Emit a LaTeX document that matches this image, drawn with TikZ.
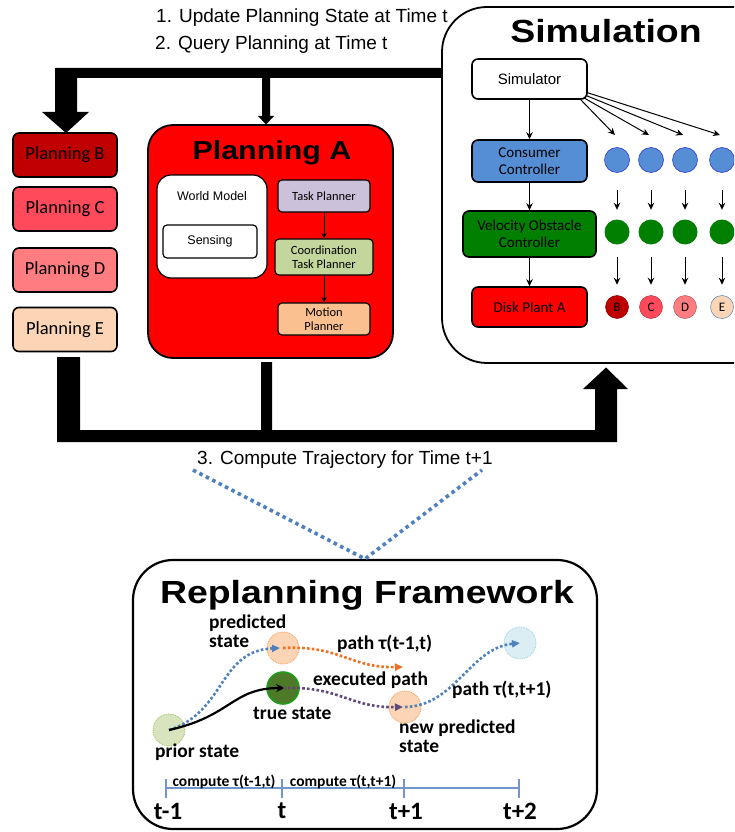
\documentclass[tikz,border=0pt]{standalone}
\usepackage{fontspec}
\setmainfont{Liberation Sans}
\newfontfamily\carl{Carlito}
\usetikzlibrary{arrows.meta}
\newcommand\myfs[2]{\fontsize{#1}{#2}\selectfont}
\newcommand\ttl[2]{\fontsize{#1}{#1}\selectfont\bfseries\scalebox{1.17}[1]{#2}}
\definecolor{plB}{HTML}{C00000}
\definecolor{plC}{HTML}{FF4A5B}
\definecolor{plD}{HTML}{FF7C80}
\definecolor{plE}{HTML}{FBD5B5}
\definecolor{lav}{HTML}{CCC1DA}
\definecolor{lgreen}{HTML}{C3D69B}
\definecolor{lorange}{HTML}{FAC090}
\definecolor{cblue}{HTML}{558ED5}
\definecolor{cbord}{HTML}{3A3AD0}
\definecolor{vgreen}{HTML}{007F00}
\definecolor{dotblue}{HTML}{4F81BD}
\definecolor{dorange}{HTML}{F07020}
\definecolor{dpurple}{HTML}{5F497A}
\definecolor{pgfill}{HTML}{D7E4BD}
\definecolor{pgbord}{HTML}{9BBB59}
\definecolor{pofill}{HTML}{FBD5B5}
\definecolor{pobord}{HTML}{F79646}
\definecolor{tsfill}{HTML}{4E7A27}
\definecolor{tsbord}{HTML}{1E9E1E}
\definecolor{lbfill}{HTML}{DBEEF4}
\definecolor{lbbord}{HTML}{93CDDD}
\definecolor{tlcol}{HTML}{7096CC}
\begin{document}
\begin{tikzpicture}[x=1pt,y=-1pt,
  txt/.style={inner sep=0pt},
  pbox/.style={draw=black, line width=1.6pt, rounded corners=6pt, inner sep=0pt,
    minimum width=104pt, minimum height=44pt, font=\carl\myfs{18.5}{20}},
  ibox/.style={draw=black, line width=1.2pt, rounded corners=4pt, inner sep=0pt,
    align=center, font=\carl\myfs{12.5}{14.5}},
  sbox/.style={draw=black, line width=1.6pt, rounded corners=6pt, inner sep=0pt,
    align=center, minimum width=115pt, font=\carl\myfs{15}{17.5}},
  sarr/.style={line width=1pt, -{Stealth[length=7pt,width=6.5pt]}},
  dcirc/.style={circle, minimum size=25pt, inner sep=0pt},
  rcirc/.style={circle, minimum size=32pt, inner sep=0pt},
  rlab/.style={inner sep=0pt, anchor=west, align=left, font=\carl\bfseries\myfs{19.5}{19}},
  dotp/.style={line width=2.6pt, dash pattern=on 2.6pt off 2.2pt},
  ptip/.style={-{Triangle[length=8pt,width=7pt]}},
  tl/.style={draw=tlcol, line width=1.3pt}
]
\useasboundingbox (0,0) rectangle (734,832);
\clip (0,0) rectangle (734,832);

% ---------------- Simulation box ----------------
\draw[line width=1.8pt, rounded corners=45pt, fill=white] (442,7) rectangle (800,363);
\node[txt, anchor=base] (simt) at (606,43) {\ttl{32}{Simulation}};

% ---------------- thick buses ----------------
\fill[black] (442,68) -- (55,68) -- (55,112) -- (42,112) -- (66,133) -- (89,112) -- (77,112)
  -- (77,78) -- (262,78) -- (262,116) -- (258,116) -- (266,124.5) -- (274,116) -- (270,116)
  -- (270,78) -- (442,78) -- cycle;
\fill[black] (57,357) -- (80,357) -- (80,430) -- (261,430) -- (261,362) -- (272,362) -- (272,430)
  -- (595,430) -- (595,389) -- (583,389) -- (606,367.5) -- (628,389) -- (617,389) -- (617,442)
  -- (57,442) -- cycle;

% ---------------- step texts ----------------
\node[txt, anchor=base west, font=\myfs{19}{22}] (s1) at (156,22.5) {1. Update Planning State at Time t};
\node[txt, anchor=base west, font=\myfs{19}{22}] (s2) at (155,50) {2. Query Planning at Time t};
\node[txt, anchor=base west, font=\myfs{19}{22}] (s3) at (197,464) {3. Compute Trajectory for Time t+1};

% ---------------- Planning B-E ----------------
\node[pbox, fill=plB] (pB) at (65,155) {Planning B};
\node[pbox, fill=plC] (pC) at (65,209) {Planning C};
\node[pbox, fill=plD] (pD) at (65,270) {Planning D};
\node[pbox, fill=plE] (pE) at (65,329.5) {Planning E};

% ---------------- Planning A ----------------
\node[draw=black, line width=1.8pt, fill=red, rounded corners=25pt, inner sep=0pt,
  minimum width=245pt, minimum height=233pt] (pA) at (270.5,241.5) {};
\node[txt, anchor=base] (pAt) at (272,159) {\ttl{26}{Planning A}};
\node[draw=black, line width=1.2pt, fill=white, rounded corners=14pt, inner sep=0pt,
  minimum width=110pt, minimum height=103pt] (wm) at (212,226.5) {};
\node[txt, font=\myfs{12.5}{14}] (wmt) at (212,196) {World Model};
\node[ibox, fill=white, font=\myfs{12.5}{14}, minimum width=94pt, minimum height=33pt] (sens) at (210,241.5) {Sensing};
\node[ibox, fill=lav, minimum width=92pt, minimum height=32pt] (tp) at (324,196) {Task Planner};
\node[ibox, fill=lgreen, minimum width=98pt, minimum height=36pt] (ctp) at (324,257) {Coordination\\Task Planner};
\node[ibox, fill=lorange, minimum width=92pt, minimum height=32pt] (mp) at (324,319) {Motion\\Planner};
\draw[line width=0.9pt, -{Stealth[length=5.5pt,width=5.5pt]}] (tp) -- (ctp);
\draw[line width=0.9pt, -{Stealth[length=5.5pt,width=5.5pt]}] (ctp) -- (mp);

% ---------------- Simulation inner ----------------
\node[sbox, fill=white, font=\myfs{15}{17}, minimum height=40pt] (sim) at (529.5,79) {Simulator};
\node[sbox, fill=cblue, minimum height=42pt] (cc) at (529.5,161) {Consumer\\Controller};
\node[sbox, fill=vgreen, minimum width=133pt, minimum height=46pt] (vo) at (529.5,234) {Velocity Obstacle\\Controller};
\node[sbox, fill=red, minimum height=40pt] (dp) at (529.5,307) {Disk Plant A};
\draw[sarr] (sim) -- (cc);
\draw[sarr] (cc) -- (vo);
\draw[sarr] (vo) -- (dp);

\foreach \i/\x in {1/617,2/651,3/685,4/722}{
  \node[dcirc, fill=cblue, draw=cbord, line width=0.6pt] (b\i) at (\x,160) {};
  \node[dcirc, fill=vgreen] (g\i) at (\x,232) {};
  \coordinate (f\i) at (\x-2,135);
}
\node[dcirc, minimum size=23pt, fill=plB, draw=plB!70!black, line width=0.5pt, font=\carl\myfs{13}{14}] (r1) at (617,307) {B};
\node[dcirc, minimum size=23pt, fill=plC, draw=plC!70!black, line width=0.5pt, font=\carl\myfs{13}{14}] (r2) at (651,307) {C};
\node[dcirc, minimum size=23pt, fill=plD, draw=plD!70!black, line width=0.5pt, font=\carl\myfs{13}{14}] (r3) at (685,307) {D};
\node[dcirc, minimum size=23pt, fill=plE, draw=dotblue, line width=0.5pt, font=\carl\myfs{13}{14}] (r4) at (722,307) {E};
\foreach \i in {1,2,3,4}{
  \draw[sarr, shorten <=17.5pt, shorten >=9.5pt] (b\i) -- (g\i);
  \draw[sarr, shorten <=12.5pt, shorten >=10.5pt] (g\i) -- (r\i);
}
\draw[sarr] ([xshift=-7pt,yshift=0pt]sim.south east) -- (f1);
\draw[sarr] ([xshift=-4pt,yshift=2pt]sim.south east) -- (f2);
\draw[sarr] ([xshift=-1pt,yshift=4pt]sim.south east) -- (f3);
\draw[sarr] ([xshift=0pt,yshift=7pt]sim.south east) -- (f4);

% ---------------- Replanning Framework ----------------
\node[draw=black, line width=2.2pt, fill=white, rounded corners=40pt, inner sep=0pt,
  minimum width=464pt, minimum height=269pt] (rf) at (365,694.5) {};
\coordinate (vl) at (193,470);
\coordinate (vr) at (482,470);
\draw[dotblue, line width=3.6pt, dash pattern=on 3.6pt off 3.6pt] (vl) -- (rf.north) -- (vr);
\node[txt, anchor=base] (rft) at (367,603) {\ttl{32}{Replanning Framework}};

\node[rcirc, fill=pgfill, draw=pgbord, line width=0.8pt, densely dotted] (prior) at (169,730) {};
\node[rcirc, fill=pofill, draw=pobord, line width=0.8pt, densely dotted] (pred) at (283,648) {};
\node[rcirc, fill=tsfill, draw=tsbord, line width=1.6pt] (true) at (283,688) {};
\node[rcirc, fill=pofill, draw=pobord, line width=0.8pt, densely dotted] (npred) at (405,707) {};
\node[rcirc, fill=lbfill, draw=lbbord, line width=0.8pt, densely dotted] (fut) at (520,643) {};
\coordinate (oend) at (403,667);

\draw[dotblue, dotp, ptip] (prior.center) .. controls (226,712) and (218,651) .. ([xshift=-3pt]pred.center);
\draw[black, line width=2.2pt, -{Stealth[length=9pt,width=8pt]}] (prior.center) .. controls (232,716) and (232,688) .. ([xshift=2pt]true.center);
\draw[dorange, dotp, ptip] (pred.center) .. controls (340,645) and (350,668) .. (oend);
\draw[dpurple, dotp, ptip] (true.center) .. controls (340,686) and (350,708) .. ([xshift=-2pt]npred.center);
\draw[dotblue, dotp, ptip] (npred.center) .. controls (455,706) and (470,648) .. (fut.center);

\node[rlab] (lpred) at (209,631) {predicted\\state};
\node[rlab] (lp1) at (337,644) {path τ(t-1,t)};
\node[rlab] (lex) at (313,680) {executed path};
\node[rlab] (ltrue) at (253,713) {true state};
\node[rlab] (lp2) at (452,690) {path τ(t,t+1)};
\node[rlab] (lnp) at (399,736) {new predicted\\state};
\node[rlab] (lprior) at (155,752) {prior state};

\coordinate (T0) at (166,788);
\coordinate (T1) at (282,788);
\coordinate (T2) at (404,788);
\coordinate (T3) at (519,788);
\draw[tl] (T0) -- (T3);
\foreach \t in {T0,T1,T2,T3}{
  \draw[tl] ([yshift=9pt]\t) -- ([yshift=-10pt]\t);
}
\node[txt, font=\carl\bfseries\myfs{15.5}{17}] (c1) at (224,782) {compute τ(t-1,t)};
\node[txt, font=\carl\bfseries\myfs{15.5}{17}] (c2) at (343,782) {compute τ(t,t+1)};
\node[txt, font=\carl\bfseries\myfs{25}{27}] (t0) at (168,811) {t-1};
\node[txt, font=\carl\bfseries\myfs{25}{27}] (t1) at (282,811) {t};
\node[txt, font=\carl\bfseries\myfs{25}{27}] (t2) at (406,811) {t+1};
\node[txt, font=\carl\bfseries\myfs{25}{27}] (t3) at (520,811) {t+2};
\end{tikzpicture}
\end{document}
